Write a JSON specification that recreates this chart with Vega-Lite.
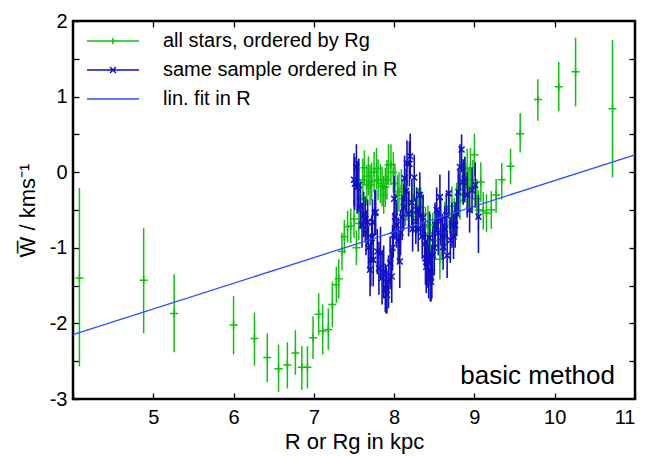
{
  "$schema": "https://vega.github.io/schema/vega-lite/v6.json",
  "width": 562,
  "height": 378,
  "autosize": {"type": "none"},
  "padding": {"left": 73, "top": 21, "right": 25, "bottom": 58},
  "background": "white",
  "config": {
    "font": "Liberation Sans",
    "view": {"stroke": "black", "strokeWidth": 2.5},
    "axis": {"grid": false, "domain": false, "tickColor": "black", "tickWidth": 1.3, "labelColor": "black", "titleColor": "black", "labelFont": "Liberation Sans", "titleFont": "Liberation Sans", "labelFontSize": 20, "titleFontSize": 22, "titleFontWeight": "normal"}
  },
  "title": {"text": "basic method", "orient": "top", "anchor": "end", "frame": "group", "offset": 0, "dy": 399, "dx": -20, "baseline": "alphabetic", "fontSize": 26, "fontWeight": "normal", "font": "Liberation Sans", "color": "black"},
  "datasets": {
    "green": [
      {"x": 4.08, "y": -1.40, "lo": -2.57, "hi": -0.21},
      {"x": 4.88, "y": -1.43, "lo": -2.13, "hi": -0.74},
      {"x": 5.26, "y": -1.87, "lo": -2.38, "hi": -1.35},
      {"x": 6.00, "y": -2.02, "lo": -2.41, "hi": -1.64},
      {"x": 6.26, "y": -2.20, "lo": -2.56, "hi": -1.86},
      {"x": 6.42, "y": -2.45, "lo": -2.78, "hi": -2.13},
      {"x": 6.56, "y": -2.60, "lo": -2.91, "hi": -2.28},
      {"x": 6.67, "y": -2.55, "lo": -2.86, "hi": -2.25},
      {"x": 6.77, "y": -2.39, "lo": -2.68, "hi": -2.09},
      {"x": 6.85, "y": -2.58, "lo": -2.88, "hi": -2.30},
      {"x": 6.92, "y": -2.58, "lo": -2.86, "hi": -2.30},
      {"x": 6.99, "y": -2.19, "lo": -2.47, "hi": -1.91},
      {"x": 7.06, "y": -1.88, "lo": -2.15, "hi": -1.60},
      {"x": 7.11, "y": -2.10, "lo": -2.41, "hi": -1.75},
      {"x": 7.18, "y": -2.08, "lo": -2.35, "hi": -1.80},
      {"x": 7.23, "y": -1.75, "lo": -2.05, "hi": -1.45},
      {"x": 7.28, "y": -1.49, "lo": -1.73, "hi": -1.25},
      {"x": 7.31, "y": -1.41, "lo": -1.67, "hi": -1.15},
      {"x": 7.35, "y": -1.05, "lo": -1.30, "hi": -0.80},
      {"x": 7.38, "y": -0.85, "lo": -1.07, "hi": -0.63},
      {"x": 7.42, "y": -0.72, "lo": -0.93, "hi": -0.51},
      {"x": 7.46, "y": -0.71, "lo": -0.94, "hi": -0.48},
      {"x": 7.50, "y": -0.62, "lo": -0.87, "hi": -0.37},
      {"x": 7.53, "y": -1.00, "lo": -1.23, "hi": -0.77},
      {"x": 7.56, "y": -0.68, "lo": -0.90, "hi": -0.46},
      {"x": 7.58, "y": -0.35, "lo": -0.60, "hi": -0.10},
      {"x": 7.61, "y": -0.10, "lo": -0.38, "hi": 0.18},
      {"x": 7.63, "y": 0.06, "lo": -0.17, "hi": 0.29},
      {"x": 7.66, "y": -0.17, "lo": -0.44, "hi": 0.10},
      {"x": 7.68, "y": -0.05, "lo": -0.31, "hi": 0.21},
      {"x": 7.70, "y": -0.17, "lo": -0.44, "hi": 0.10},
      {"x": 7.72, "y": -0.12, "lo": -0.37, "hi": 0.13},
      {"x": 7.75, "y": 0.00, "lo": -0.27, "hi": 0.27},
      {"x": 7.78, "y": 0.05, "lo": -0.22, "hi": 0.32},
      {"x": 7.80, "y": -0.10, "lo": -0.37, "hi": 0.17},
      {"x": 7.83, "y": -0.15, "lo": -0.41, "hi": 0.11},
      {"x": 7.85, "y": -0.19, "lo": -0.45, "hi": 0.07},
      {"x": 7.87, "y": -0.30, "lo": -0.55, "hi": -0.05},
      {"x": 7.89, "y": -0.20, "lo": -0.46, "hi": 0.06},
      {"x": 7.91, "y": -0.10, "lo": -0.36, "hi": 0.16},
      {"x": 7.93, "y": 0.10, "lo": -0.17, "hi": 0.37},
      {"x": 7.96, "y": 0.10, "lo": -0.17, "hi": 0.37},
      {"x": 7.99, "y": 0.00, "lo": -0.27, "hi": 0.27},
      {"x": 8.01, "y": -0.15, "lo": -0.42, "hi": 0.12},
      {"x": 8.04, "y": -0.30, "lo": -0.56, "hi": -0.04},
      {"x": 8.06, "y": -0.26, "lo": -0.52, "hi": 0.00},
      {"x": 8.09, "y": -0.22, "lo": -0.48, "hi": 0.04},
      {"x": 8.11, "y": -0.35, "lo": -0.61, "hi": -0.09},
      {"x": 8.14, "y": -0.45, "lo": -0.71, "hi": -0.19},
      {"x": 8.16, "y": -0.38, "lo": -0.64, "hi": -0.12},
      {"x": 8.19, "y": -0.50, "lo": -0.76, "hi": -0.24},
      {"x": 8.22, "y": -0.38, "lo": -0.64, "hi": -0.12},
      {"x": 8.24, "y": -0.55, "lo": -0.81, "hi": -0.29},
      {"x": 8.27, "y": -0.59, "lo": -0.85, "hi": -0.33},
      {"x": 8.30, "y": -0.47, "lo": -0.73, "hi": -0.21},
      {"x": 8.33, "y": -0.46, "lo": -0.72, "hi": -0.20},
      {"x": 8.36, "y": -0.55, "lo": -0.81, "hi": -0.29},
      {"x": 8.39, "y": -0.72, "lo": -0.98, "hi": -0.46},
      {"x": 8.42, "y": -0.70, "lo": -0.96, "hi": -0.44},
      {"x": 8.45, "y": -0.81, "lo": -1.07, "hi": -0.55},
      {"x": 8.48, "y": -0.80, "lo": -1.06, "hi": -0.54},
      {"x": 8.51, "y": -0.90, "lo": -1.16, "hi": -0.64},
      {"x": 8.54, "y": -0.75, "lo": -1.01, "hi": -0.49},
      {"x": 8.57, "y": -1.15, "lo": -1.42, "hi": -0.88},
      {"x": 8.60, "y": -0.85, "lo": -1.11, "hi": -0.59},
      {"x": 8.63, "y": -0.65, "lo": -0.91, "hi": -0.39},
      {"x": 8.66, "y": -0.70, "lo": -0.96, "hi": -0.44},
      {"x": 8.69, "y": -0.55, "lo": -0.81, "hi": -0.29},
      {"x": 8.72, "y": -0.45, "lo": -0.71, "hi": -0.19},
      {"x": 8.75, "y": -0.60, "lo": -0.86, "hi": -0.34},
      {"x": 8.78, "y": -0.40, "lo": -0.66, "hi": -0.14},
      {"x": 8.80, "y": -0.30, "lo": -0.56, "hi": -0.04},
      {"x": 8.82, "y": -0.37, "lo": -0.63, "hi": -0.11},
      {"x": 8.85, "y": -0.15, "lo": -0.41, "hi": 0.11},
      {"x": 8.88, "y": -0.05, "lo": -0.31, "hi": 0.21},
      {"x": 8.91, "y": 0.05, "lo": -0.21, "hi": 0.31},
      {"x": 8.93, "y": -0.20, "lo": -0.46, "hi": 0.06},
      {"x": 8.95, "y": 0.06, "lo": -0.20, "hi": 0.32},
      {"x": 8.98, "y": -0.10, "lo": -0.36, "hi": 0.16},
      {"x": 9.00, "y": 0.23, "lo": -0.05, "hi": 0.51},
      {"x": 9.03, "y": -0.35, "lo": -0.61, "hi": -0.09},
      {"x": 9.05, "y": -0.50, "lo": -0.76, "hi": -0.24},
      {"x": 9.08, "y": -0.13, "lo": -0.39, "hi": 0.13},
      {"x": 9.11, "y": -0.51, "lo": -0.76, "hi": -0.26},
      {"x": 9.15, "y": -0.54, "lo": -0.79, "hi": -0.29},
      {"x": 9.21, "y": -0.50, "lo": -0.75, "hi": -0.25},
      {"x": 9.27, "y": -0.30, "lo": -0.54, "hi": -0.09},
      {"x": 9.34, "y": -0.10, "lo": -0.36, "hi": 0.12},
      {"x": 9.45, "y": 0.08, "lo": -0.16, "hi": 0.31},
      {"x": 9.57, "y": 0.51, "lo": 0.26, "hi": 0.78},
      {"x": 9.79, "y": 0.96, "lo": 0.68, "hi": 1.23},
      {"x": 10.05, "y": 1.13, "lo": 0.81, "hi": 1.46},
      {"x": 10.26, "y": 1.33, "lo": 0.87, "hi": 1.78},
      {"x": 10.72, "y": 0.84, "lo": -0.07, "hi": 1.75}
    ],
    "blue": [
      {"x": 7.50, "y": -0.10, "lo": -0.45, "hi": 0.25},
      {"x": 7.51, "y": -0.15, "lo": -0.50, "hi": 0.20},
      {"x": 7.53, "y": 0.07, "lo": -0.23, "hi": 0.37},
      {"x": 7.54, "y": -0.20, "lo": -0.55, "hi": 0.15},
      {"x": 7.56, "y": -0.17, "lo": -0.52, "hi": 0.18},
      {"x": 7.58, "y": -0.45, "lo": -0.75, "hi": -0.15},
      {"x": 7.60, "y": -0.70, "lo": -1.00, "hi": -0.40},
      {"x": 7.62, "y": -0.56, "lo": -0.86, "hi": -0.26},
      {"x": 7.64, "y": -0.62, "lo": -0.92, "hi": -0.32},
      {"x": 7.65, "y": -0.80, "lo": -1.10, "hi": -0.50},
      {"x": 7.67, "y": -0.66, "lo": -0.96, "hi": -0.36},
      {"x": 7.68, "y": -1.00, "lo": -1.30, "hi": -0.70},
      {"x": 7.70, "y": -1.29, "lo": -1.64, "hi": -0.94},
      {"x": 7.71, "y": -1.16, "lo": -1.51, "hi": -0.81},
      {"x": 7.72, "y": -0.87, "lo": -1.17, "hi": -0.57},
      {"x": 7.73, "y": -0.66, "lo": -0.96, "hi": -0.36},
      {"x": 7.74, "y": -1.16, "lo": -1.51, "hi": -0.81},
      {"x": 7.76, "y": -0.54, "lo": -0.84, "hi": -0.24},
      {"x": 7.77, "y": -0.53, "lo": -0.83, "hi": -0.23},
      {"x": 7.79, "y": -1.05, "lo": -1.35, "hi": -0.75},
      {"x": 7.81, "y": -1.27, "lo": -1.62, "hi": -0.92},
      {"x": 7.83, "y": -1.07, "lo": -1.42, "hi": -0.72},
      {"x": 7.85, "y": -1.40, "lo": -1.75, "hi": -1.05},
      {"x": 7.87, "y": -1.32, "lo": -1.67, "hi": -0.97},
      {"x": 7.89, "y": -1.53, "lo": -1.85, "hi": -1.21},
      {"x": 7.90, "y": -1.55, "lo": -1.87, "hi": -1.23},
      {"x": 7.91, "y": -1.62, "lo": -1.87, "hi": -1.30},
      {"x": 7.93, "y": -1.45, "lo": -1.80, "hi": -1.10},
      {"x": 7.95, "y": -1.20, "lo": -1.55, "hi": -0.85},
      {"x": 7.97, "y": -1.38, "lo": -1.73, "hi": -1.03},
      {"x": 7.98, "y": -1.00, "lo": -1.30, "hi": -0.70},
      {"x": 7.99, "y": -0.83, "lo": -1.13, "hi": -0.53},
      {"x": 8.00, "y": -0.35, "lo": -0.65, "hi": -0.05},
      {"x": 8.01, "y": -0.59, "lo": -0.89, "hi": -0.29},
      {"x": 8.03, "y": -0.70, "lo": -1.00, "hi": -0.40},
      {"x": 8.05, "y": -0.90, "lo": -1.20, "hi": -0.60},
      {"x": 8.07, "y": -1.18, "lo": -1.53, "hi": -0.83},
      {"x": 8.08, "y": -0.80, "lo": -1.10, "hi": -0.50},
      {"x": 8.10, "y": -0.60, "lo": -0.90, "hi": -0.30},
      {"x": 8.12, "y": -0.46, "lo": -0.76, "hi": -0.16},
      {"x": 8.13, "y": -0.08, "lo": -0.38, "hi": 0.22},
      {"x": 8.15, "y": -0.25, "lo": -0.55, "hi": 0.05},
      {"x": 8.16, "y": 0.12, "lo": -0.18, "hi": 0.42},
      {"x": 8.18, "y": -0.55, "lo": -0.85, "hi": -0.25},
      {"x": 8.19, "y": 0.11, "lo": -0.19, "hi": 0.41},
      {"x": 8.20, "y": 0.21, "lo": -0.09, "hi": 0.51},
      {"x": 8.22, "y": -0.40, "lo": -0.70, "hi": -0.10},
      {"x": 8.23, "y": -0.75, "lo": -1.05, "hi": -0.45},
      {"x": 8.25, "y": -0.07, "lo": -0.37, "hi": 0.23},
      {"x": 8.27, "y": -0.65, "lo": -0.95, "hi": -0.35},
      {"x": 8.28, "y": -0.50, "lo": -0.80, "hi": -0.20},
      {"x": 8.30, "y": -0.75, "lo": -1.05, "hi": -0.45},
      {"x": 8.32, "y": -0.30, "lo": -0.60, "hi": 0.00},
      {"x": 8.33, "y": -0.57, "lo": -0.87, "hi": -0.27},
      {"x": 8.35, "y": -0.85, "lo": -1.15, "hi": -0.55},
      {"x": 8.36, "y": -0.60, "lo": -0.90, "hi": -0.30},
      {"x": 8.38, "y": -0.95, "lo": -1.25, "hi": -0.65},
      {"x": 8.39, "y": -1.14, "lo": -1.49, "hi": -0.79},
      {"x": 8.40, "y": -1.25, "lo": -1.60, "hi": -0.90},
      {"x": 8.42, "y": -1.18, "lo": -1.53, "hi": -0.83},
      {"x": 8.43, "y": -1.32, "lo": -1.67, "hi": -0.97},
      {"x": 8.44, "y": -0.87, "lo": -1.22, "hi": -0.52},
      {"x": 8.45, "y": -1.40, "lo": -1.71, "hi": -1.05},
      {"x": 8.46, "y": -1.45, "lo": -1.71, "hi": -1.10},
      {"x": 8.47, "y": -1.32, "lo": -1.67, "hi": -0.97},
      {"x": 8.48, "y": -1.10, "lo": -1.45, "hi": -0.75},
      {"x": 8.50, "y": -1.00, "lo": -1.35, "hi": -0.65},
      {"x": 8.51, "y": -0.70, "lo": -1.00, "hi": -0.40},
      {"x": 8.53, "y": -0.50, "lo": -0.80, "hi": -0.20},
      {"x": 8.55, "y": -0.80, "lo": -1.10, "hi": -0.50},
      {"x": 8.57, "y": -0.33, "lo": -0.63, "hi": -0.03},
      {"x": 8.58, "y": -0.65, "lo": -0.95, "hi": -0.35},
      {"x": 8.60, "y": -0.85, "lo": -1.15, "hi": -0.55},
      {"x": 8.61, "y": -0.99, "lo": -1.29, "hi": -0.69},
      {"x": 8.63, "y": -0.75, "lo": -1.05, "hi": -0.45},
      {"x": 8.65, "y": -0.57, "lo": -0.87, "hi": -0.27},
      {"x": 8.66, "y": -1.10, "lo": -1.40, "hi": -0.80},
      {"x": 8.68, "y": -0.28, "lo": -0.58, "hi": 0.02},
      {"x": 8.70, "y": -0.90, "lo": -1.20, "hi": -0.60},
      {"x": 8.72, "y": -0.70, "lo": -1.00, "hi": -0.40},
      {"x": 8.74, "y": -0.85, "lo": -1.15, "hi": -0.55},
      {"x": 8.76, "y": -0.70, "lo": -1.00, "hi": -0.40},
      {"x": 8.78, "y": -0.55, "lo": -0.85, "hi": -0.25},
      {"x": 8.80, "y": -0.26, "lo": -0.56, "hi": 0.04},
      {"x": 8.82, "y": 0.07, "lo": -0.23, "hi": 0.37},
      {"x": 8.84, "y": 0.30, "lo": 0.00, "hi": 0.50},
      {"x": 8.86, "y": -0.13, "lo": -0.43, "hi": 0.17},
      {"x": 8.88, "y": -0.10, "lo": -0.40, "hi": 0.20},
      {"x": 8.91, "y": -0.30, "lo": -0.60, "hi": 0.00},
      {"x": 8.94, "y": -0.50, "lo": -0.80, "hi": -0.20},
      {"x": 8.97, "y": -0.24, "lo": -0.54, "hi": 0.06},
      {"x": 9.01, "y": -0.17, "lo": -0.47, "hi": 0.13},
      {"x": 9.05, "y": -0.59, "lo": -1.07, "hi": -0.30}
    ],
    "fit": [
      {"x": 4.0, "y": -2.15},
      {"x": 11.0, "y": 0.23}
    ]
  },
  "layer": [
    {
      "data": {"name": "green"},
      "mark": {"type": "rule", "strokeWidth": 1.5},
      "encoding": {
        "x": {"field": "x", "type": "quantitative", "scale": {"domain": [4, 11], "nice": false, "zero": false},
          "axis": {"orient": "bottom", "values": [4, 5, 6, 7, 8, 9, 10, 11], "labelExpr": "datum.value == 4 ? '' : '' + datum.value", "tickSize": -6, "labelPadding": 14, "title": "R or Rg in kpc", "titlePadding": 4}},
        "y": {"field": "lo", "type": "quantitative", "scale": {"domain": [-3, 2], "nice": false, "zero": false},
          "axis": {"orient": "left", "values": [-3, -2.5, -2, -1.5, -1, -0.5, 0, 0.5, 1, 1.5, 2], "labelExpr": "datum.value % 1 == 0 ? '' + datum.value : ''", "tickSize": -6, "labelPadding": 12, "title": "W̅ / kms⁻¹", "titlePadding": 10}},
        "y2": {"field": "hi"},
        "color": {"datum": "all stars, ordered by Rg", "type": "nominal",
          "scale": {"domain": ["all stars, ordered by Rg", "same sample ordered in R", "lin. fit in R"], "range": ["#10c010", "#1010c0", "#2850ff"]},
          "legend": {"orient": "none", "legendX": 30, "legendY": 10, "title": null, "symbolSize": 169, "symbolStrokeWidth": 1.5, "labelFontSize": 20, "labelFont": "Liberation Sans", "labelColor": "black", "labelOffset": 40, "labelLimit": 500, "rowPadding": 9, "padding": 0, "symbolType": "M-4,0L4,0",
            "encoding": {"symbols": {"shape": {"condition": [{"test": "datum.value === 'all stars, ordered by Rg'", "value": "M-4,0L4,0M0,-0.5L0,0.5"}, {"test": "datum.value === 'same sample ordered in R'", "value": "M-4,0L4,0M-0.45,-0.45L0.45,0.45M-0.45,0.45L0.45,-0.45"}], "value": "M-4,0L4,0"}}}}
        }
      }
    },
    {
      "data": {"name": "green"},
      "mark": {"type": "point", "shape": "M-1,0L1,0M0,-1L0,1", "size": 64, "strokeWidth": 1.5, "filled": false, "opacity": 1},
      "encoding": {
        "x": {"field": "x", "type": "quantitative", "axis": null},
        "y": {"field": "y", "type": "quantitative", "axis": null},
        "color": {"datum": "all stars, ordered by Rg", "type": "nominal"}
      }
    },
    {
      "data": {"name": "blue"},
      "mark": {"type": "rule", "strokeWidth": 1.6},
      "encoding": {
        "x": {"field": "x", "type": "quantitative", "axis": null},
        "y": {"field": "lo", "type": "quantitative", "axis": null},
        "y2": {"field": "hi"},
        "color": {"datum": "same sample ordered in R", "type": "nominal"}
      }
    },
    {
      "data": {"name": "blue"},
      "mark": {"type": "point", "shape": "M-1,-1L1,1M-1,1L1,-1", "size": 36, "strokeWidth": 1.5, "filled": false, "opacity": 1},
      "encoding": {
        "x": {"field": "x", "type": "quantitative", "axis": null},
        "y": {"field": "y", "type": "quantitative", "axis": null},
        "color": {"datum": "same sample ordered in R", "type": "nominal"}
      }
    },
    {
      "data": {"name": "fit"},
      "mark": {"type": "line", "strokeWidth": 1.3},
      "encoding": {
        "x": {"field": "x", "type": "quantitative", "axis": {"orient": "top", "values": [5, 6, 7, 8, 9, 10], "labels": false, "tickSize": -6, "title": null}},
        "y": {"field": "y", "type": "quantitative", "axis": {"orient": "right", "values": [-2.5, -2, -1.5, -1, -0.5, 0, 0.5, 1, 1.5], "labels": false, "tickSize": -6, "title": null}},
        "color": {"datum": "lin. fit in R", "type": "nominal"}
      }
    }
  ],
  "resolve": {"axis": {"x": "independent", "y": "independent"}}
}
